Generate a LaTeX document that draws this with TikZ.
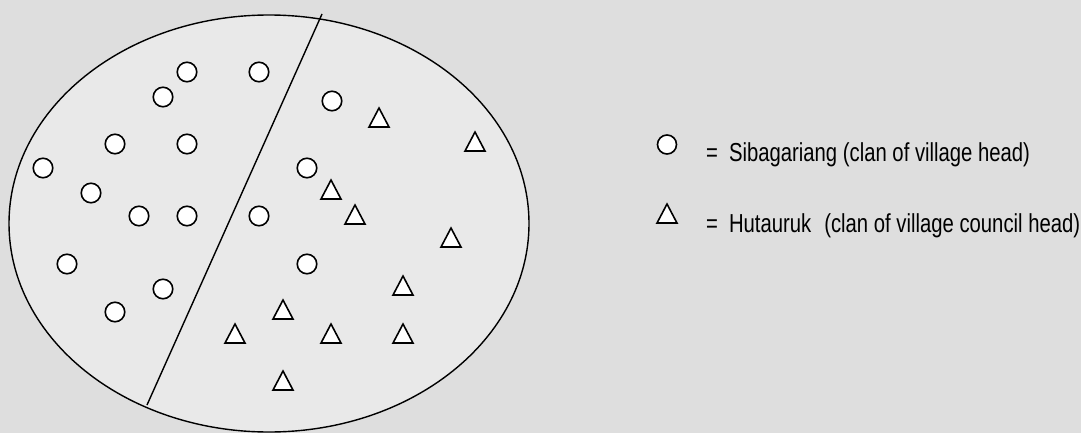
\documentclass[tikz,border=0pt]{standalone}
\usepackage{fontspec}
\setmainfont{Liberation Sans}[FakeStretch=0.78]
\usetikzlibrary{shapes.geometric}
\begin{document}
\begin{tikzpicture}[x=1pt,y=-1pt,
  mem/.style={draw=black,line width=1.6pt,fill=white,circle,minimum size=19.5pt,inner sep=0pt},
  tri/.style={draw=black,line width=1.6pt,fill=white,isosceles triangle,shape border rotate=90,
    isosceles triangle stretches,minimum width=20pt,minimum height=19pt,inner sep=0pt},
  lmem/.style={mem,minimum size=19pt},
  ltri/.style={tri},
  lab/.style={anchor=base west,font=\fontsize{26}{28}\selectfont,inner sep=0pt}]
\definecolor{bgc}{HTML}{DEDEDE}
\definecolor{inc}{HTML}{E9E9E9}
\fill[bgc] (0,0) rectangle (1081,433);
\useasboundingbox (0,0) rectangle (1081,433);
\begin{scope}
\clip (0,0) rectangle (1081,433);
\node[ellipse,draw,line width=1.4pt,fill=inc,minimum width=520pt,minimum height=417pt,inner sep=0pt] (village) at (269,223.5) {};
\coordinate (dtop) at (322,14);
\coordinate (dbot) at (147,405);
\draw[line width=1.4pt] (dtop) -- (dbot);
\end{scope}
% Sibagariang
\node[mem] (c1) at (187,72) {};
\node[mem] (c2) at (259,72) {};
\node[mem] (c3) at (163,97) {};
\node[mem] (c4) at (115,144) {};
\node[mem] (c5) at (187,144) {};
\node[mem] (c6) at (43,168) {};
\node[mem] (c7) at (91,193) {};
\node[mem] (c8) at (139,216) {};
\node[mem] (c9) at (187,216) {};
\node[mem] (c10) at (259,216) {};
\node[mem] (c11) at (67,264) {};
\node[mem] (c12) at (163,289) {};
\node[mem] (c13) at (115,312) {};
\node[mem] (c14) at (332,101) {};
\node[mem] (c15) at (307,168) {};
\node[mem] (c16) at (307,264) {};
% Hutauruk
\node[tri] (t1) at (379,121) {};
\node[tri] (t2) at (475,145) {};
\node[tri] (t3) at (331,193) {};
\node[tri] (t4) at (355,218) {};
\node[tri] (t5) at (451,241) {};
\node[tri] (t6) at (403,289) {};
\node[tri] (t7) at (283,313) {};
\node[tri] (t8) at (235,337) {};
\node[tri] (t9) at (331,337) {};
\node[tri] (t10) at (403,337) {};
\node[tri] (t11) at (283,384) {};
% legend
\node[lmem] (lc) at (667,144.5) {};
\node[ltri] (lt) at (667,217) {};
\node[lab] (lct) at (706,161) {=\hspace{11pt}Sibagariang (clan of village head)};
\node[lab] (ltt) at (706,232) {=\hspace{11pt}Hutauruk\hspace{13pt}(clan of village council head)};
\end{tikzpicture}
\end{document}
